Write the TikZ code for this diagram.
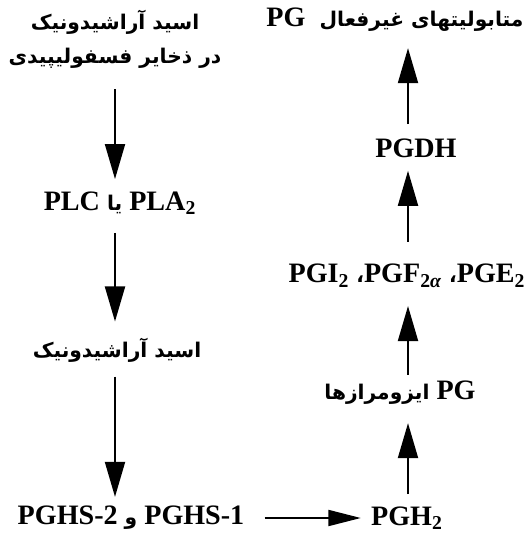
\documentclass[tikz,border=0pt]{standalone}
\usepackage{fontspec}
\setmainfont{Liberation Serif}
\newfontfamily\farsi[Script=Arabic,Scale=0.72]{DejaVu Sans}
\TeXXeTstate=1
\newcommand{\fa}[1]{{\farsi\beginR #1\endR}}
\usetikzlibrary{arrows.meta}

\begin{document}
\begin{tikzpicture}[
    every node/.style={
        inner sep=2pt,
        font=\fontsize{16}{21.5}\selectfont\bfseries
    },
    arr/.style={
        -{Triangle[length=7mm,width=4mm]},
        line width=1.1pt
    }
]
\useasboundingbox (0,0) rectangle (10.6,-10.82);

% columns
\coordinate (colL) at (2.3,0);
\coordinate (colR) at (8.16,0);

% left column
\node[align=center] (src) at (2.3,-0.78) {\fa{اسید آراشیدونیک}\\[-2pt]\fa{در ذخایر فسفولیپیدی}};
\node (pla) at (2.4,-4.06) {PLC \fa{یا} PLA\textsubscript{2}};
\node (aa) at (2.34,-7.0) {\fa{اسید آراشیدونیک}};
\node (pghs) at (2.62,-10.36) {PGHS-2 \fa{و} PGHS-1};

% right column
\node (pgh) at (8.14,-10.36) {PGH\textsubscript{2}};
\node (iso) at (8.0,-7.86) {\fa{ایزومرازها} PG};
\node (pgs) at (8.14,-5.52) {PGI\textsubscript{2} \fa{،}PGF\textsubscript{2\textit{α}} \fa{،}PGE\textsubscript{2}};
\node (pgdh) at (8.32,-2.96) {PGDH};
\node (inact) at (7.9,-0.4) {PG\enspace\fa{متابولیتهای غیرفعال}};

% arrows down
\draw[arr, shorten <=0.34cm, shorten >=0.17cm] (src.south -| colL) -- (pla.north -| colL);
\draw[arr, shorten <=0.29cm, shorten >=0.25cm] (pla.south -| colL) -- (aa.north -| colL);
\draw[arr, shorten <=0.21cm, shorten >=0.11cm] (aa.south -| colL) -- (pghs.north -| colL);

% arrow across
\draw[arr, -{Triangle[length=6.5mm,width=3.2mm]}, shorten <=0.33cm, shorten >=0.13cm] (pghs.east) -- (pgh.west);

% arrows up
\draw[arr, shorten <=0.17cm, shorten >=0.29cm] (pgh.north -| colR) -- (iso.south -| colR);
\draw[arr, shorten <=0.05cm, shorten >=0.29cm] (iso.north -| colR) -- (pgs.south -| colR);
\draw[arr, shorten <=0.37cm, shorten >=0.19cm] (pgs.north -| colR) -- (pgdh.south -| colR);
\draw[arr, shorten <=0.21cm, shorten >=0.25cm] (pgdh.north -| colR) -- (inact.south -| colR);

\end{tikzpicture}
\end{document}
